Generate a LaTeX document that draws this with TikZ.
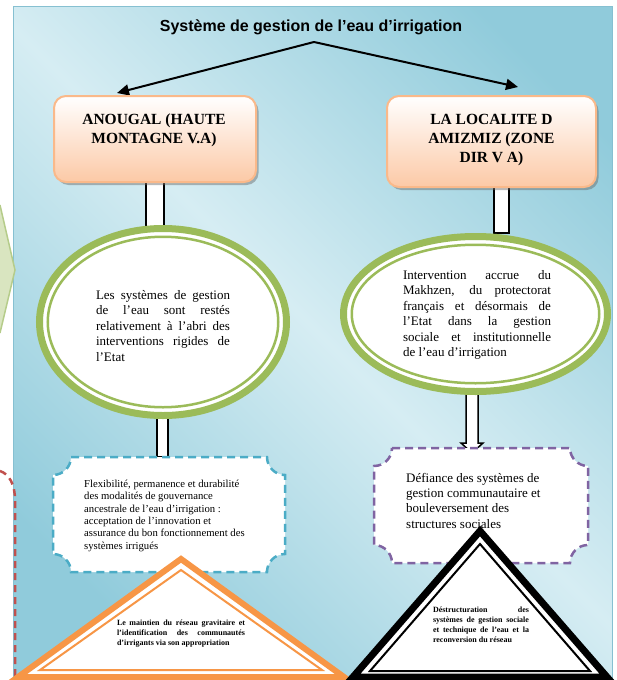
\documentclass[tikz,border=0pt]{standalone}
\usepackage{fontspec}
\setmainfont{Liberation Serif}
\newfontfamily\titlefont{Liberation Sans}
\usetikzlibrary{shapes.geometric,arrows.meta,shadows,calc}
\definecolor{panelL}{HTML}{D6EDF3}
\definecolor{panelD}{HTML}{90CBDB}
\definecolor{panelE}{HTML}{86C0D1}
\definecolor{boxedge}{HTML}{FAB98A}
\definecolor{boxfill}{HTML}{FCC9A6}
\definecolor{ringgreen}{HTML}{9BBB59}
\definecolor{dashblue}{HTML}{4BACC6}
\definecolor{dashpurple}{HTML}{8064A2}
\definecolor{triorange}{HTML}{F79646}
\definecolor{chevfill}{HTML}{D9E5C0}
\definecolor{chevedge}{HTML}{B5CC8A}
\definecolor{reddash}{HTML}{C0504D}
\pgfdeclarehorizontalshading{panelshade}{100bp}{color(0bp)=(panelD); color(24bp)=(panelD); color(51bp)=(panelL); color(78bp)=(panelD); color(100bp)=(panelD)}
\begin{document}
\begin{tikzpicture}[x=1pt,y=-1pt,
  arr/.style={line width=2pt,-{Triangle[length=12pt,width=11pt]}},
  zonebox/.style={rounded corners=12pt, draw=boxedge, line width=2pt,
    top color=white, bottom color=boxfill,
    drop shadow={shadow xshift=2.5pt, shadow yshift=-3pt, fill=black!60, opacity=0.45}},
  boxtext/.style={font=\bfseries\fontsize{15.5}{19}\selectfont, align=center, inner sep=0pt},
  ring/.style={ellipse, draw=ringgreen, line width=7pt, fill=white, inner sep=0pt},
  innerring/.style={draw=ringgreen, line width=2.5pt},
  elltext/.style={font=\fontsize{13}{15.5}\selectfont, align=justify, inner sep=0pt},
  conn/.style={rectangle, draw=black, fill=white, line width=1.5pt, inner sep=0pt},
  dashbox/.style={fill=white, line width=2.5pt, dash pattern=on 8pt off 5pt},
  tritext/.style={font=\bfseries\fontsize{8}{10}\selectfont, align=justify, inner sep=0pt}]
\useasboundingbox (0,0) rectangle (616,680);
% background panel
\fill[shading=panelshade, shading angle=45] (13,6) rectangle (612,684);
\draw[panelE, line width=1pt] (13,684) -- (13,6) -- (612,6) -- (612,684);
% left outer fragments
\fill[chevfill] (0,205) -- (15,270) -- (0,333) -- cycle;
\draw[chevedge, line width=1.5pt] (0,205) -- (15,270) -- (0,333);
\draw[reddash, line width=2.5pt, dash pattern=on 7pt off 5pt] (0,471) .. controls (9,474) and (15,484) .. (15,500) -- (15,684);
% title and arrows
\node[font=\titlefont\bfseries\fontsize{16}{19}\selectfont, inner sep=0pt] (title) at (311,27) {Système de gestion de l’eau d’irrigation};
\coordinate (apex) at (314,42);
\coordinate (tipL) at (117,93);
\coordinate (tipR) at (518,87);
\draw[arr] (apex) -- (tipL);
\draw[arr] (apex) -- (tipR);
% upper connectors
\node[conn, minimum width=18pt, minimum height=50pt] (cL1) at (155,207) {};
\node[conn, minimum width=15pt, minimum height=46pt] (cR1) at (501.5,210) {};
% boxes
\node[zonebox, minimum width=202pt, minimum height=86pt] (boxL) at (155,139) {};
\node[zonebox, minimum width=209pt, minimum height=91pt] (boxR) at (491.5,141.5) {};
\node[boxtext, anchor=north] (tL) at ($(boxL.north)+(-1,19)$) {ANOUGAL (HAUTE\\MONTAGNE V.A)};
\node[boxtext, anchor=north] (tR) at ($(boxR.north)+(0,19)$) {LA LOCALITE D\\AMIZMIZ (ZONE\\DIR V A)};
% lower connectors
\node[conn, minimum width=11pt, minimum height=44pt] (cL2) at (162.5,435) {};
\draw[black, fill=white, line width=1.5pt] (466,390) -- (466,443) -- (461,443) -- (472,453) -- (483,443) -- (478,443) -- (478,390) -- cycle;
% ellipses
\node[ring, minimum width=247pt, minimum height=187pt] (ellL) at (163,322) {};
\draw[innerring] (ellL.center) ellipse[x radius=115.25, y radius=85.25];
\node[ring, minimum width=264pt, minimum height=155pt] (ellR) at (475.5,314) {};
\draw[innerring] (ellR.center) ellipse[x radius=123.75, y radius=69.25];
\node[elltext, text width=134pt] (eLt) at (163,326) {Les systèmes de gestion\linebreak de l’eau sont restés\linebreak relativement à l’abri des\linebreak interventions rigides de\linebreak l’Etat};
\node[elltext, text width=148pt] (eRt) at (477,315) {Intervention accrue du\linebreak Makhzen, du protectorat\linebreak français et désormais de\linebreak l’Etat dans la gestion\linebreak sociale et institutionnelle\linebreak de l’eau d’irrigation};
% dashed plaques
\draw[dashbox, draw=dashblue] (71,457) -- (267,457) arc[start angle=180,end angle=90,radius=18] -- (285,554) arc[start angle=270,end angle=180,radius=18] -- (71,572) arc[start angle=0,end angle=-90,radius=18] -- (53,475) arc[start angle=90,end angle=0,radius=18] -- cycle;
\draw[dashbox, draw=dashpurple] (392,448) -- (570,448) arc[start angle=180,end angle=90,radius=18] -- (588,545) arc[start angle=270,end angle=180,radius=18] -- (392,563) arc[start angle=0,end angle=-90,radius=18] -- (374,466) arc[start angle=90,end angle=0,radius=18] -- cycle;
\node[font=\fontsize{10.7}{12.3}\selectfont, align=left, inner sep=0pt, anchor=north west] (dLt) at (84,480) {Flexibilité, permanence et durabilité\\des modalités de gouvernance\\ancestrale de l’eau d’irrigation :\\acceptation de l’innovation et\\assurance du bon fonctionnement des\\systèmes irrigués};
\node[font=\fontsize{13}{15.3}\selectfont, align=left, inner sep=0pt, anchor=north west] (dRt) at (406,473) {Défiance des systèmes de\\gestion communautaire et\\bouleversement des\\structures sociales};
% triangles
\draw[triorange, fill=white, line width=6pt] (181,559) -- (18,677) -- (344,677) -- cycle;
\draw[triorange, line width=2pt] (181,570) -- (40,670) -- (322,670) -- cycle;
\draw[black, fill=white, line width=7pt] (480,531) -- (353,677) -- (607,677) -- cycle;
\draw[black, line width=2pt] (480,544) -- (370,671) -- (590,671) -- cycle;
\node[tritext, text width=128pt] (triLt) at (181,634) {Le maintien du réseau gravitaire et\linebreak l’identification des communautés\linebreak d’irrigants via son appropriation};
\node[tritext, text width=96pt] (triRt) at (481,625) {\parfillskip=0pt Déstructuration des\linebreak systèmes de gestion sociale\linebreak et technique de l’eau et la\linebreak reconversion du réseau};
\end{tikzpicture}
\end{document}
